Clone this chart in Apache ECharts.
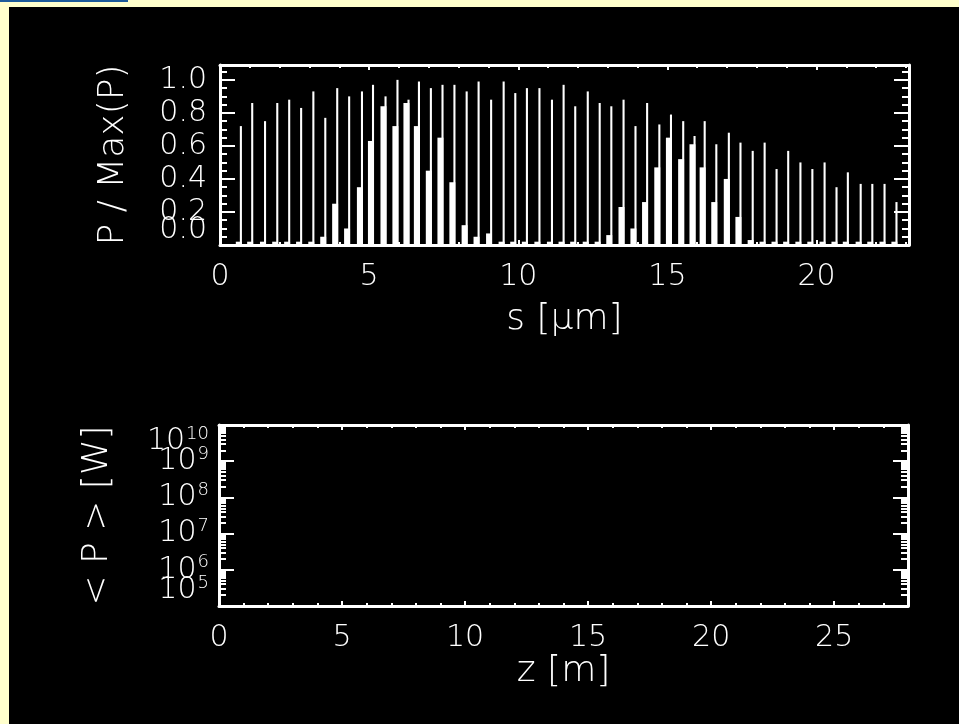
<!DOCTYPE html>
<html><head><meta charset="utf-8">
<script src="https://cdn.jsdelivr.net/npm/echarts@6/dist/echarts.min.js"></script>
<style>
html,body{margin:0;padding:0;background:#ffffcc;width:959px;height:724px;overflow:hidden;}
#strip{position:absolute;left:0;top:0;width:128px;height:2px;background:#1d5b9a;}
#panel{position:absolute;left:9px;top:7px;width:950px;height:717px;background:#000;}
#chart{position:absolute;left:0;top:0;width:959px;height:724px;}
</style></head><body>
<div id="strip"></div><div id="panel"></div><div id="chart"></div>
<script>
// ---- data ----
// spike positions s [um]
const spikePos = [0.70,1.08,1.51,1.92,2.32,2.72,3.13,3.53,3.93,4.33,4.76,5.13,5.55,5.95,6.32,6.67,7.07,7.46,7.86,8.27,
  8.67,9.09,9.51,9.90,10.29,10.71,11.13,11.52,11.91,12.33,12.73,13.12,13.53,13.93,14.32,14.73,15.12,15.53,15.91,16.25,
  16.64,17.06,17.45,17.86,18.26,18.66,19.05,19.46,19.86,20.27,20.67,21.05,21.48,21.87,22.28,22.68];
// narrow spike heights P/Max(P)
const spikePeak = [0.72,0.86,0.75,0.86,0.88,0.83,0.93,0.77,0.95,0.90,0.93,0.97,0.90,1.00,0.88,0.99,0.95,0.97,0.97,0.93,
  0.99,0.88,0.99,0.92,0.95,0.95,0.88,0.97,0.84,0.93,0.86,0.84,0.88,0.72,0.86,0.73,0.79,0.75,0.66,0.75,
  0.61,0.68,0.62,0.57,0.62,0.46,0.57,0.50,0.46,0.50,0.35,0.44,0.37,0.37,0.37,0.26];
// broad base heights next to each spike
const basePeak = [0.02,0.02,0.02,0.02,0.02,0.02,0.02,0.05,0.25,0.10,0.35,0.63,0.84,0.72,0.86,0.72,0.45,0.65,0.38,0.12,
  0.05,0.07,0.02,0.02,0.02,0.02,0.02,0.02,0.02,0.02,0.02,0.06,0.23,0.10,0.26,0.47,0.65,0.52,0.61,0.47,
  0.26,0.40,0.17,0.03,0.02,0.02,0.02,0.02,0.02,0.02,0.02,0.02,0.02,0.02,0.02,0.02];
const sRange = [0, 23.1];
const pRange = [0, 1.09];
const zRange = [0, 28];
const powerRange = [1e5, 1e10];
// tick labels
const pLabels = [0.2, 0.4, 0.6, 0.8, 1.0];
const pBottomLabel = [0];
const powerLabels = [1e6, 1e7, 1e8, 1e9];
const powerBottomLabel = [1e5];
const powerTopLabel = [1e10];
const topTitles = { x: 's [\u03bcm]', y: 'P / Max(P)' };
const bottomTitles = { x: 'z [m]', y: '< P > [W]' };

const FONT = '"DejaVu Sans", sans-serif';
const W = '#ffffff';
const chart = echarts.init(document.getElementById('chart'), null, {renderer: 'canvas'});

const spikeData = spikePos.map((s, i) => [s, spikePeak[i], basePeak[i]]);

function txt(size) { return {color: W, fontSize: size, fontFamily: FONT, fontWeight: 200}; }

function xAxis(grid, pos, range, labels, name, gap) {
  return {
    type: 'value', gridIndex: grid, position: pos, min: range[0], max: range[1], interval: 5,
    axisLine: {show: true, onZero: false, lineStyle: {color: W, width: 3}},
    axisTick: {show: true, inside: true, length: 5, lineStyle: {color: W, width: 2}},
    minorTick: {show: true, splitNumber: 5, length: 3, lineStyle: {color: W, width: 2}},
    splitLine: {show: false},
    axisLabel: Object.assign({show: labels, margin: 17, showMinLabel: true, showMaxLabel: false, hideOverlap: false}, txt(30)),
    name: labels ? name : '', nameLocation: 'middle', nameGap: gap, nameTextStyle: txt(36)
  };
}
function yLin(grid, pos, labelVals, vAlign, frame, name) {
  return {
    type: 'value', gridIndex: grid, position: pos, min: pRange[0], max: pRange[1], interval: 0.2,
    axisLine: {show: frame, onZero: false, lineStyle: {color: W, width: 3}},
    axisTick: {show: frame, inside: true, length: 15, lineStyle: {color: W, width: 2}},
    minorTick: {show: frame, splitNumber: 4, length: 7, lineStyle: {color: W, width: 2}},
    splitLine: {show: false},
    axisLabel: Object.assign({show: !!labelVals, customValues: labelVals || undefined, margin: 13,
      hideOverlap: false, verticalAlign: vAlign, formatter: v => v.toFixed(1)}, txt(30)),
    name: name || '', nameLocation: 'middle', nameGap: 88, nameRotate: 90, nameTextStyle: txt(36)
  };
}
function yLog(grid, pos, labelVals, vAlign, frame, name) {
  return {
    type: 'log', logBase: 10, gridIndex: grid, position: pos, min: powerRange[0], max: powerRange[1],
    axisLine: {show: frame, onZero: false, lineStyle: {color: W, width: 3}},
    axisTick: {show: frame, inside: true, length: 15, lineStyle: {color: W, width: 2}},
    minorTick: {show: frame, splitNumber: 9, length: 7, lineStyle: {color: W, width: 2}},
    splitLine: {show: false},
    axisLabel: {show: !!labelVals, customValues: labelVals || undefined, margin: 10, hideOverlap: false,
      verticalAlign: vAlign,
      formatter: v => '{b|10}{s|' + Math.round(Math.log10(v)) + '}',
      rich: {b: txt(30), s: Object.assign({padding: [0, 0, 14, 1]}, txt(18))}},
    name: name || '', nameLocation: 'middle', nameGap: 103, nameRotate: 90, nameTextStyle: txt(36)
  };
}

chart.setOption({
  animation: false,
  backgroundColor: 'transparent',
  grid: [
    {left: 220, top: 65, width: 689, height: 180},
    {left: 219, top: 425, width: 689, height: 181}
  ],
  xAxis: [
    xAxis(0, 'bottom', sRange, true, topTitles.x, 57),
    xAxis(0, 'top', sRange, false, '', 0),
    xAxis(1, 'bottom', zRange, true, bottomTitles.x, 48),
    xAxis(1, 'top', zRange, false, '', 0)
  ],
  yAxis: [
    yLin(0, 'left', pLabels, 'middle', true, topTitles.y),
    yLin(0, 'right', null, 'middle', true, ''),
    yLin(0, 'left', pBottomLabel, 'bottom', false, ''),
    yLog(1, 'left', powerLabels, 'middle', true, bottomTitles.y),
    yLog(1, 'right', null, 'middle', true, ''),
    yLog(1, 'left', powerBottomLabel, 'bottom', false, ''),
    yLog(1, 'left', powerTopLabel, 'top', false, '')
  ],
  series: [
    {
      type: 'custom', xAxisIndex: 0, yAxisIndex: 0, data: spikeData, clip: true,
      renderItem: function (params, api) {
        const s = api.value(0), h = api.value(1), b = api.value(2);
        const kids = [];
        if (b > 0) {
          const a0 = api.coord([s - 0.17, b]), a1 = api.coord([s + 0.03, 0]);
          kids.push({type: 'rect', shape: {x: a0[0], y: a0[1], width: a1[0] - a0[0], height: a1[1] - a0[1]}, style: {fill: W}});
        }
        const c0 = api.coord([s - 0.035, h]), c1 = api.coord([s + 0.035, 0]);
        kids.push({type: 'rect', shape: {x: c0[0], y: c0[1], width: c1[0] - c0[0], height: c1[1] - c0[1]}, style: {fill: W}});
        return {type: 'group', children: kids};
      }
    },
    {type: 'line', xAxisIndex: 2, yAxisIndex: 3, data: [], showSymbol: false}
  ]
});
</script>
</body></html>
